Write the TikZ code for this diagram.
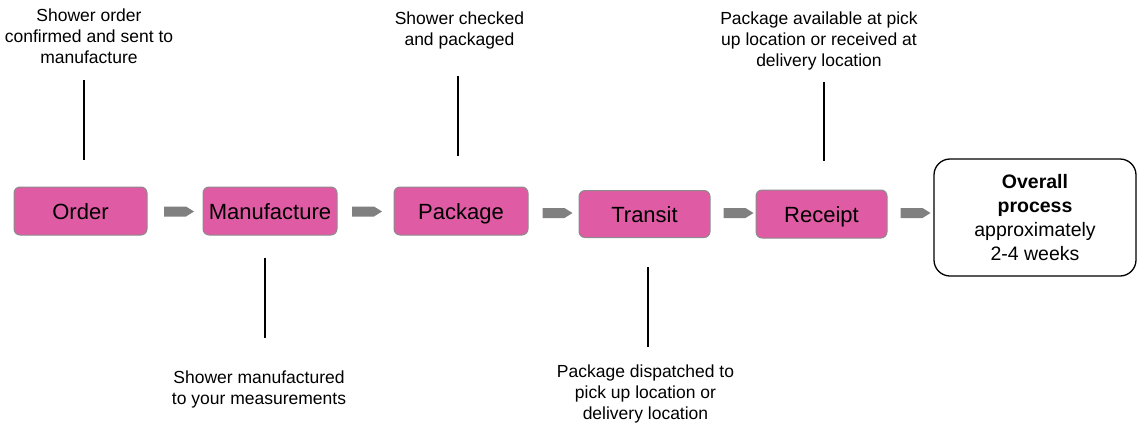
\documentclass[tikz,border=0pt]{standalone}
\usepackage{fontspec}
\setmainfont{Liberation Sans}
\usepackage{xcolor}
\usetikzlibrary{shapes.symbols, positioning}
\definecolor{stagepink}{RGB}{223,91,163}
\definecolor{stageedge}{RGB}{140,140,140}
\definecolor{flowgray}{RGB}{128,128,128}
\tikzstyle{stage} = [rectangle, rounded corners=6pt, minimum width=133pt, minimum height=48pt, text height=16pt, text depth=0pt, text centered, draw=stageedge, line width=1pt, fill=stagepink, font=\fontsize{22}{26}\selectfont]
\tikzstyle{summary} = [rectangle, rounded corners=16pt, minimum width=202pt, minimum height=117pt, align=center, draw=black, line width=1.3pt, fill=white, font=\fontsize{19.5}{24.3}\selectfont]
\tikzstyle{note} = [align=center, inner sep=0pt, font=\fontsize{17.5}{21}\selectfont]
\tikzstyle{flow} = [signal, signal to=east, signal pointer angle=64, fill=flowgray, draw=none, minimum width=30pt, minimum height=10pt, inner sep=0pt]
\tikzstyle{link} = [line width=1.2pt, black]

\begin{document}
\begin{tikzpicture}[x=1pt, y=-1pt]
\useasboundingbox (0,0) rectangle (1140,424);

% Stages
\node (order) [stage] at (80.5,211) {Order};
\node (manuf) [stage, minimum width=134pt] at (270,211) {Manufacture};
\node (package) [stage, minimum width=134pt] at (461,211) {Package};
\node (transit) [stage, minimum width=131pt, minimum height=47pt] at (644.5,214) {Transit};
\node (receipt) [stage, minimum width=131pt] at (821.5,214) {Receipt};
\node (overall) [summary] at (1035,217.5) {\textbf{Overall}\\\textbf{process}\\approximately\\2-4 weeks};

% Flow arrows
\node (f1) [flow] at (175,211.5) {};
\node (f2) [flow] at (363,211.5) {};
\node (f3) [flow] at (553.5,213) {};
\node (f4) [flow] at (734.5,213) {};
\node (f5) [flow] at (911.5,213) {};

% Notes
\node (order-note) [note] at (89,36) {Shower order\\confirmed and sent to\\manufacture};
\node (manuf-note) [note] at (259,389) {Shower manufactured\\to your measurements};
\node (package-note) [note] at (459.5,30) {Shower checked\\and packaged};
\node (transit-note) [note] at (645.5,394) {Package dispatched to\\pick up location or\\delivery location};
\node (receipt-note) [note] at (819,41) {Package available at pick\\up location or received at\\delivery location};

% Leader lines
\coordinate (o1) at (84,80);   \coordinate (o2) at (84,160);
\coordinate (m1) at (265,258); \coordinate (m2) at (265,338);
\coordinate (p1) at (458,76);  \coordinate (p2) at (458,156);
\coordinate (t1) at (648,267); \coordinate (t2) at (648,347);
\coordinate (r1) at (824,82);  \coordinate (r2) at (824,161);
\draw [link] (o1) -- (o2);
\draw [link] (m1) -- (m2);
\draw [link] (p1) -- (p2);
\draw [link] (t1) -- (t2);
\draw [link] (r1) -- (r2);

\end{tikzpicture}
\end{document}
